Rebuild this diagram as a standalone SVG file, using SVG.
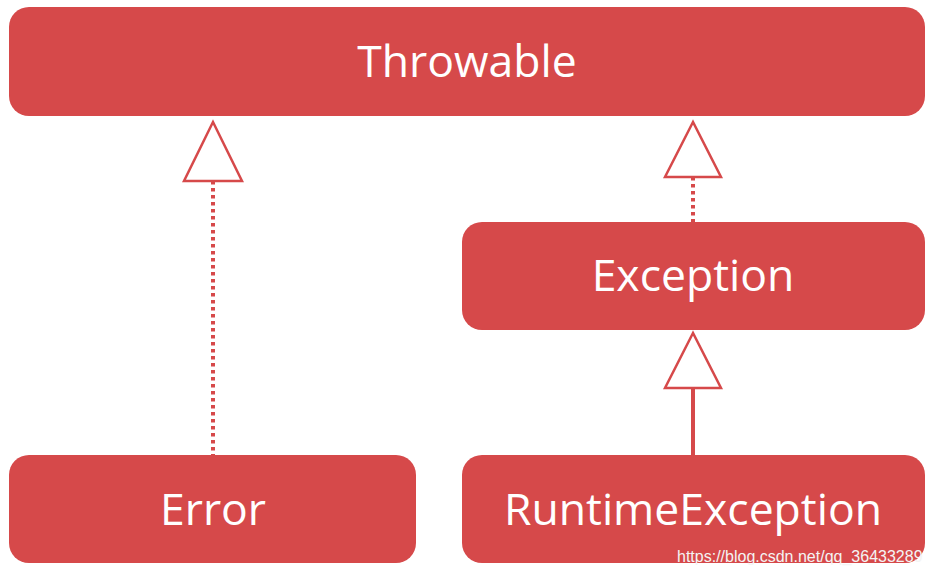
<svg xmlns="http://www.w3.org/2000/svg" width="931" height="577" viewBox="0 0 931 577">
<style>
.box{fill:#d6494a}
.lbl{fill:#ffffff;font-family:"Open Sans","Noto Sans",sans-serif;font-size:44.5px;text-anchor:middle}
.tri{fill:#ffffff;stroke:#d6494a;stroke-width:2.5;stroke-linejoin:miter}
.dot{stroke:#d6494a;stroke-width:4;stroke-dasharray:3.5 3.5;fill:none}
.solid{stroke:#d6494a;stroke-width:4;fill:none}
.wm{fill:#f4f4f4;font-family:"Liberation Sans",Arial,sans-serif;font-size:16px}
</style>
<rect width="931" height="577" fill="#ffffff"/>
<g id="connectors">
<line class="dot" x1="213" y1="181" x2="213" y2="455"/>
<polygon class="tri" points="213,122 184,181 242,181"/>
<line class="dot" x1="693" y1="177" x2="693" y2="222"/>
<polygon class="tri" points="693,122 665,177 721,177"/>
<line class="solid" x1="693" y1="388" x2="693" y2="455"/>
<polygon class="tri" points="693,333 665,388 721,388"/>
</g>
<g id="throwable">
<rect class="box" x="9" y="7" width="916" height="109" rx="20"/>
<text class="lbl" x="467" y="77">Throwable</text>
</g>
<g id="exception">
<rect class="box" x="462" y="222" width="463" height="108" rx="20"/>
<text class="lbl" x="693" y="291">Exception</text>
</g>
<g id="error">
<rect class="box" x="9" y="455" width="407" height="108" rx="20"/>
<text class="lbl" x="213" y="525">Error</text>
</g>
<g id="runtimeexception">
<rect class="box" x="462" y="455" width="463" height="108" rx="20"/>
<text class="lbl" x="693" y="525">RuntimeException</text>
</g>
<text class="wm" x="677" y="562">https://blog.csdn.net/qq_36433289</text>
</svg>
